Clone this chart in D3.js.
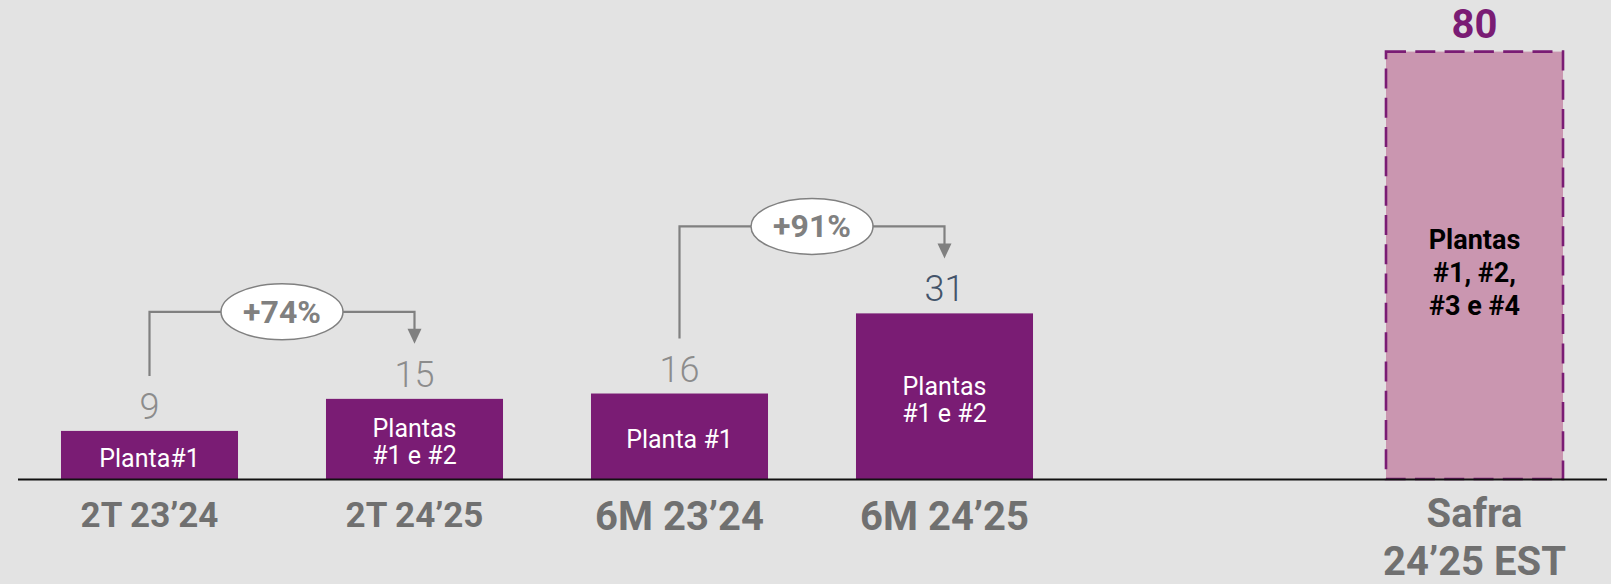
<!DOCTYPE html>
<html>
<head>
<meta charset="utf-8">
<script src="https://cdn.jsdelivr.net/npm/d3@7"></script>
<style>
  html, body { margin: 0; padding: 0; background: #e3e3e3; }
  svg { display: block; font-family: Roboto, "Noto Sans", sans-serif; }
</style>
</head>
<body>
<svg id="chart"></svg>
<script>
// data
const categories = ["2T 23’24", "2T 24’25", "6M 23’24", "6M 24’25", "Safra\n24’25 EST"];
const values = [9, 15, 16, 31, 80];
const barTexts = ["Planta#1", "Plantas\n#1 e #2", "Planta #1", "Plantas\n#1 e #2", "Plantas\n#1, #2,\n#3 e #4"];
const estimated = [false, false, false, false, true];
const growthFrom = [0, 2];
const growthTo = [1, 3];
const growthLabels = ["+74%", "+91%"];

const W = 1611, H = 584;
const baseY = 479;

const svg = d3.select("#chart").attr("width", W).attr("height", H);

// empty slot between the half-year bars and the crop estimate
const slots = categories.slice(0, 4).concat(["gap"], categories.slice(4));

const x = d3.scaleBand()
    .domain(slots)
    .range([17, 1607])
    .paddingInner(0.332)
    .paddingOuter(0.166);

const y = d3.scaleLinear()
    .domain([0, 80])
    .range([baseY, 51.6]);

const data = categories.map((c, i) => ({
    cat: c, value: values[i], text: barTexts[i], est: estimated[i], i: i
}));

const cx = d => x(d.cat) + x.bandwidth() / 2;

// bars
svg.selectAll("rect.bar")
    .data(data)
    .enter().append("rect")
    .attr("class", "bar")
    .attr("x", d => x(d.cat))
    .attr("y", d => y(d.value))
    .attr("width", x.bandwidth())
    .attr("height", d => y(0) - y(d.value))
    .attr("fill", d => d.est ? "#ca96b0" : "#7a1c74")
    .attr("stroke", d => d.est ? "#7a1c74" : "none")
    .attr("stroke-width", 2.6)
    .attr("stroke-dasharray", d => d.est ? "20,9.3" : null);

// axis line
svg.append("line")
    .attr("x1", 18).attr("x2", 1607)
    .attr("y1", baseY + 0.5).attr("y2", baseY + 0.5)
    .attr("stroke", "#111").attr("stroke-width", 2);

// text inside bars
data.forEach(d => {
    const lines = d.text.split("\n");
    const lh = d.est ? 33.3 : 27;
    const mid = (y(d.value) + y(0)) / 2;
    const t = svg.append("text")
        .attr("text-anchor", "middle")
        .attr("fill", d.est ? "#000" : "#fff")
        .style("font-size", d.est ? "27px" : "25px")
        .style("font-weight", d.est ? "bold" : "normal");
    lines.forEach((l, k) => {
        t.append("tspan")
            .attr("x", cx(d))
            .attr("y", mid + (d.est ? 16.5 : 12) + (k - (lines.length - 1) / 2) * lh)
            .text(l);
    });
});

// value labels
svg.selectAll("text.val")
    .data(data)
    .enter().append("text")
    .attr("class", "val")
    .attr("x", cx)
    .attr("y", d => y(d.value) - (d.est ? 13.5 : 12))
    .attr("text-anchor", "middle")
    .attr("fill", d => d.est ? "#7a1c74" : (d.i === 3 ? "#44546a" : "#8c8c8c"))
    .style("font-size", d => d.est ? "40px" : "36px")
    .style("font-weight", d => d.est ? "bold" : "300")
    .text(d => d.value);

// category labels
data.forEach(d => {
    const lines = d.cat.split("\n");
    const fs = d.i < 2 ? 35 : 40;
    const t = svg.append("text")
        .attr("text-anchor", "middle")
        .attr("fill", "#707070")
        .style("font-size", fs + "px")
        .style("font-weight", "bold");
    lines.forEach((l, k) => {
        t.append("tspan")
            .attr("x", cx(d))
            .attr("y", (d.i < 2 ? 527 : (d.est ? 527 : 530)) + k * 48)
            .text(l);
    });
});

// growth brackets
growthFrom.forEach((f, g) => {
    const a = data[f], b = data[growthTo[g]];
    const x1 = cx(a), x2 = cx(b);
    const yTop = y(b.value) - 87;
    const yStart = y(a.value) - 55;
    const tip = y(b.value) - 55;
    svg.append("path")
        .attr("d", d3.line()([[x1, yStart], [x1, yTop], [x2, yTop], [x2, tip - 14]]))
        .attr("fill", "none")
        .attr("stroke", "#808080")
        .attr("stroke-width", 2.2);
    svg.append("path")
        .attr("d", d3.line()([[x2 - 7, tip - 15], [x2 + 7, tip - 15], [x2, tip]]) + "Z")
        .attr("fill", "#808080");
    const mx = (x1 + x2) / 2;
    svg.append("ellipse")
        .attr("cx", mx).attr("cy", yTop)
        .attr("rx", 61).attr("ry", 28)
        .attr("fill", "#fff")
        .attr("stroke", "#808080")
        .attr("stroke-width", 1.5);
    svg.append("text")
        .attr("x", mx).attr("y", yTop + 11)
        .attr("text-anchor", "middle")
        .attr("fill", "#808080")
        .style("font-size", "32px")
        .style("font-weight", "bold")
        .text(growthLabels[g]);
});
</script>
</body>
</html>
